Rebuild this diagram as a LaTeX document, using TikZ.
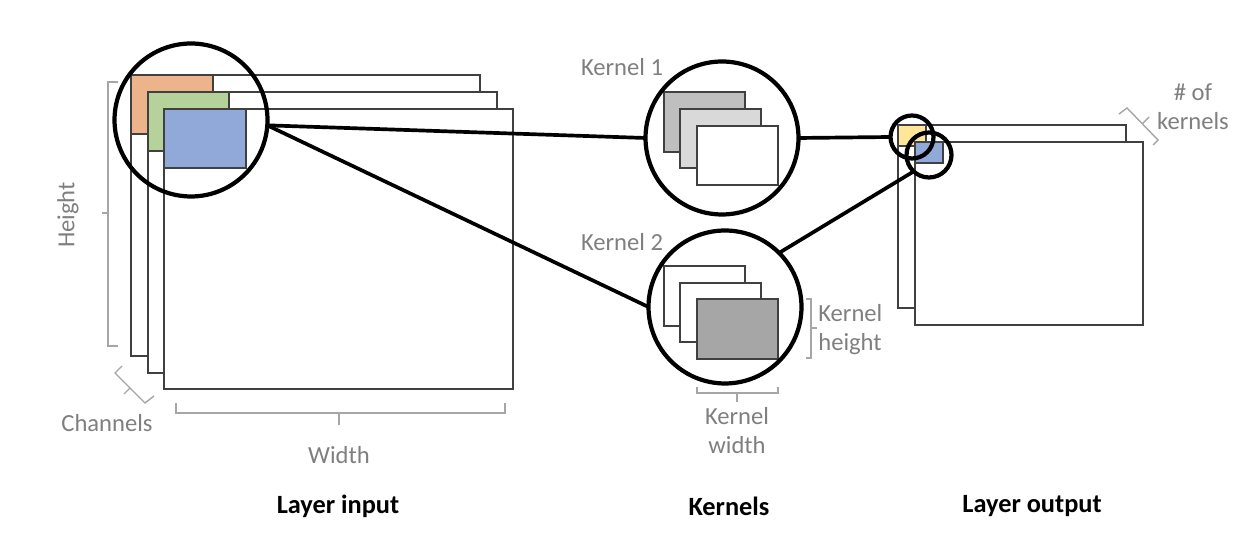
\documentclass[tikz,border=0pt]{standalone}
\usepackage{fontspec}
\setmainfont{Carlito}
\definecolor{txtgray}{HTML}{7F7F7F}
\definecolor{brgray}{HTML}{A6A6A6}
\definecolor{edgegray}{HTML}{404040}
\definecolor{orangef}{HTML}{EDB38A}
\definecolor{greenf}{HTML}{B4D29A}
\definecolor{bluef}{HTML}{91A9D9}
\definecolor{yellowf}{HTML}{FFE699}
\definecolor{kgA}{HTML}{BFBFBF}
\definecolor{kgB}{HTML}{D9D9D9}
\definecolor{kgC}{HTML}{A6A6A6}
\tikzset{
  sheet/.style={draw=edgegray, line width=0.8pt, fill=white},
  lens/.style={circle, draw=black, line width=2.4pt, inner sep=0pt, outer sep=0pt},
  link/.style={draw=black, line width=2.1pt},
  brk/.style={draw=brgray, line width=0.8pt},
  lbl/.style={text=txtgray, font=\fontsize{14}{16.5}\selectfont, inner sep=0pt},
  ttl/.style={font=\fontsize{15}{18}\selectfont\bfseries, inner sep=0pt}
}
\begin{document}
\begin{tikzpicture}[x=0.02cm,y=-0.02cm]
\useasboundingbox (0,0) rectangle (1256,546);

% ---- Layer input ----
\path[sheet] (131,75) rectangle (480,356);
\path[sheet, fill=orangef] (131,75) rectangle (213,134);
\path[sheet] (148,92) rectangle (497,373);
\path[sheet, fill=greenf] (148,92) rectangle (229,151);
\path[sheet] (164,109) rectangle (513,389);
\path[sheet, fill=bluef] (164,109) rectangle (246,168);

% ---- Kernel 1 ----
\path[sheet, fill=kgA] (664,92) rectangle (745,152);
\path[sheet, fill=kgB] (680,109) rectangle (761,168);
\path[sheet] (697,126) rectangle (778,185);

% ---- Kernel 2 ----
\path[sheet] (664,266) rectangle (745,326);
\path[sheet] (680,283) rectangle (761,342);
\path[sheet, fill=kgC] (697,299) rectangle (778,359);

% ---- Layer output ----
\path[sheet] (898,125) rectangle (1126,308);
\path[sheet, fill=yellowf] (898,125) rectangle (926,146);
\path[sheet] (915,142) rectangle (1143,325);
\path[sheet, fill=bluef] (915,142) rectangle (943,163);

% ---- lenses ----
\node[lens, minimum size=3.06cm] (lin) at (191,120) {};
\node[lens, minimum size=3.06cm] (k1) at (722,138) {};
\node[lens, minimum size=3.06cm] (k2) at (725,307) {};
\node[lens, minimum size=0.86cm] (o1) at (912,137) {};
\node[lens, minimum size=0.9cm] (o2) at (929,155) {};

% ---- connectors ----
\coordinate (linpt) at (lin.-4);
\draw[link] (linpt) -- (k1.west);
\draw[link] (linpt) -- (k2.west);
\draw[link] (k1.east) -- (o1.west);
\draw[link] (k2.45) -- (o2.227);

% ---- braces ----
\draw[brk] (118,82) -- (108,82) -- (108,346) -- (118,346);
\draw[brk] (108,213) -- (102,213);
\draw[brk] (176,403) -- (176,413) -- (505,413) -- (505,403);
\draw[brk] (339,413) -- (339,425);
\draw[brk] (122,366) -- (115,373) -- (145,403) -- (154,396);
\draw[brk] (130,388) -- (124,394);
\draw[brk] (806,299) -- (811,299) -- (811,358) -- (806,358);
\draw[brk] (811,328) -- (817,328);
\draw[brk] (697,387) -- (697,393) -- (778,393) -- (778,387);
\draw[brk] (737,393) -- (737,402);
\draw[brk] (1119,114) -- (1127,108) -- (1158,140) -- (1153,145);
\draw[brk] (1142,124) -- (1149,117);

% ---- labels ----
\node[lbl, rotate=90] (hgt) at (68,215) {Height};
\node[lbl] (chn) at (107,423) {Channels};
\node[lbl] (wid) at (339,455) {Width};
\node[lbl] (k1l) at (622,67) {Kernel 1};
\node[lbl] (k2l) at (622,242) {Kernel 2};
\node[lbl, align=left, anchor=west] (khl) at (818,330) {Kernel\\height};
\node[lbl, align=center] (kwl) at (737,431) {Kernel\\width};
\node[lbl, align=center] (nkl) at (1193,107) {\# of\\kernels};

\node[ttl] (t1) at (338,506) {Layer input};
\node[ttl] (t2) at (729,506) {Kernels};
\node[ttl] (t3) at (1032,506) {Layer output};
\end{tikzpicture}
\end{document}
